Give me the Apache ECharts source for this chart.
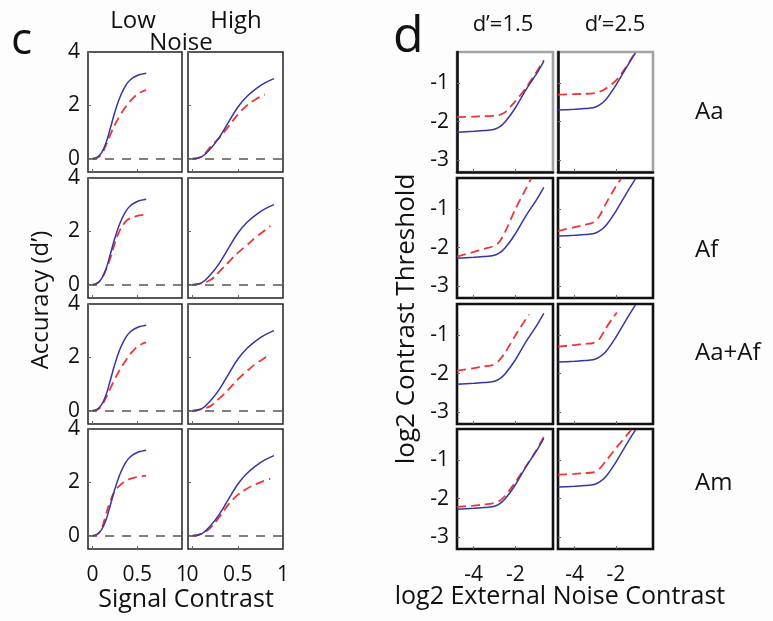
<!DOCTYPE html>
<html>
<head>
<meta charset="utf-8">
<script src="https://cdn.jsdelivr.net/npm/echarts@6/dist/echarts.min.js"></script>
<style>
html, body { margin: 0; padding: 0; background: #fdfdfd; }
#plot { width: 773px; height: 621px; }
</style>
</head>
<body>
<div id="plot"></div>
<script>
// ---- panel c: accuracy (d') vs signal contrast ----
const lowX = [0, 0.05, 0.1, 0.15, 0.2, 0.25, 0.3, 0.35, 0.4, 0.45, 0.5, 0.55, 0.6];
const lowBlue = [0, 0.05, 0.22, 0.58, 1.15, 1.75, 2.25, 2.62, 2.88, 3.03, 3.12, 3.17, 3.2];
const lowRedAa = [0, 0.03, 0.17, 0.5, 0.9, 1.27, 1.58, 1.84, 2.07, 2.26, 2.41, 2.51, 2.57];
const lowRedAf = [0, 0.04, 0.22, 0.55, 1.0, 1.55, 2.0, 2.28, 2.45, 2.53, 2.58, 2.61, 2.63];
const lowRedAaAf = [0, 0.03, 0.17, 0.48, 0.84, 1.18, 1.5, 1.77, 2.02, 2.23, 2.4, 2.5, 2.56];
const lowRedAm = [0, 0.04, 0.25, 0.8, 1.3, 1.68, 1.87, 2.0, 2.1, 2.16, 2.2, 2.23, 2.25];

const highX = [0, 0.1, 0.2, 0.3, 0.4, 0.5, 0.6, 0.7, 0.8, 0.9];
const highBlue = [0, 0.07, 0.38, 0.82, 1.38, 1.93, 2.33, 2.62, 2.84, 3.0];
const highRedXAa = [0, 0.1, 0.2, 0.3, 0.4, 0.5, 0.6, 0.7, 0.8];
const highRedAa = [0, 0.08, 0.45, 0.8, 1.22, 1.65, 1.99, 2.23, 2.4];
const highRedX = [0, 0.1, 0.2, 0.3, 0.4, 0.5, 0.6, 0.7, 0.8, 0.86];
const highRedAf = [0, 0.05, 0.18, 0.5, 0.85, 1.19, 1.48, 1.78, 2.04, 2.2];
const highRedAaAf = [0, 0.06, 0.18, 0.47, 0.8, 1.17, 1.48, 1.76, 1.98, 2.11];
const highRedAm = [0, 0.07, 0.3, 0.72, 1.18, 1.53, 1.76, 1.93, 2.07, 2.14];

const accTicks = [0, 2, 4];
const contrastTicks = [0, 0.5, 1];

// ---- panel d: log2 threshold vs log2 external noise ----
const noiseX15 = [-4.8, -4, -3.5, -3.1, -2.8, -2.5, -2, -1.5, -1, -0.64];
const blue15 = [-2.27, -2.25, -2.23, -2.21, -2.15, -2.01, -1.64, -1.18, -0.77, -0.44];
const noiseX25 = [-4.8, -4, -3.5, -3.1, -2.8, -2.5, -2, -1.5, -1.05];
const blue25 = [-1.7, -1.68, -1.66, -1.64, -1.57, -1.44, -1.06, -0.61, -0.22];

const redAa15 = [-1.88, -1.87, -1.86, -1.85, -1.83, -1.76, -1.47, -1.13, -0.72, -0.41];
const redAa25 = [-1.3, -1.29, -1.28, -1.27, -1.23, -1.15, -0.94, -0.59, -0.2];
const redAfX15 = [-4.8, -4, -3.5, -3.1, -2.8, -2.5, -2, -1.5, -1.25];
const redAf15 = [-2.23, -2.11, -2.03, -1.97, -1.87, -1.6, -1.0, -0.48, -0.22];
const redAfX25 = [-4.8, -4, -3.5, -3.1, -2.8, -2.5, -2, -1.75];
const redAf25 = [-1.57, -1.47, -1.41, -1.35, -1.19, -0.88, -0.42, -0.22];
const redAaAfX15 = [-4.8, -4, -3.5, -3.1, -2.8, -2.5, -2, -1.5, -1.35];
const redAaAf15 = [-1.92, -1.86, -1.81, -1.78, -1.67, -1.46, -1.01, -0.59, -0.47];
const redAaAfX25 = [-4.8, -4, -3.5, -3.1, -2.8, -2.5, -2.2, -1.95];
const redAaAf25 = [-1.3, -1.26, -1.23, -1.21, -1.11, -0.84, -0.6, -0.42];
const redAm15 = [-2.21, -2.18, -2.15, -2.12, -2.07, -1.93, -1.57, -1.17, -0.75, -0.4];
const redAmX25 = [-4.8, -4, -3.5, -3.1, -2.8, -2.5, -2, -1.5, -1.25];
const redAm25 = [-1.38, -1.36, -1.34, -1.32, -1.23, -1.04, -0.7, -0.38, -0.22];

const threshTicks = [-3, -2, -1];
const noiseTicks = [-4, -2];
const rowNames = ['Aa', 'Af', 'Aa+Af', 'Am'];

const FONT = 'Open Sans';
const BLUE = '#3636a4';
const RED = '#ef3535';
const TXT = '#111';
const rowTops = [52, 178, 304, 429];
const rowH = 120;

const zip = (xs, ys) => xs.map((x, i) => [x, ys[i]]);

const grid = [], xAxis = [], yAxis = [], series = [];

function addPanel(left, width, top, o) {
  const i = grid.length;
  grid.push({
    left: left, top: top, width: width, height: rowH, show: true,
    backgroundColor: '#ffffff', borderColor: o.border, borderWidth: o.bw
  });
  xAxis.push({
    type: 'value', gridIndex: i, min: o.xMin, max: o.xMax,
    splitLine: { show: false },
    axisLine: { show: o.axisLine, onZero: false, lineStyle: { color: '#111', width: o.bw } },
    axisTick: { show: true, inside: true, length: 3, customValues: o.xTicks, lineStyle: { color: '#666' } },
    axisLabel: { show: o.showX, customValues: o.xTicks, margin: 16, fontSize: 21, color: TXT, fontFamily: FONT }
  });
  yAxis.push({
    type: 'value', gridIndex: i, min: o.yMin, max: o.yMax,
    splitLine: { show: false },
    axisLine: { show: o.axisLine, onZero: false, lineStyle: { color: '#111', width: o.bw } },
    axisTick: { show: true, inside: true, length: 3, customValues: o.yTicks, lineStyle: { color: '#666' } },
    axisLabel: { show: o.showY, customValues: o.yTicks, margin: 8, fontSize: 21, color: TXT,
      fontFamily: FONT, padding: o.yPad }
  });
  return i;
}

function addLine(i, data, color, dashed, extra) {
  series.push(Object.assign({
    type: 'line', xAxisIndex: i, yAxisIndex: i, data: data,
    showSymbol: false, symbol: 'none', smooth: 0.4,
    lineStyle: { color: color, width: dashed ? 1.8 : 1.5, type: dashed ? [9, 5] : 'solid' },
    z: dashed ? 3 : 4
  }, extra || {}));
}

const zeroLine = {
  markLine: {
    silent: true, symbol: ['none', 'none'], label: { show: false },
    lineStyle: { color: '#555', type: [9, 8], width: 1.5 },
    data: [{ yAxis: 0 }]
  }
};

// panel c
const lowReds = [lowRedAa, lowRedAf, lowRedAaAf, lowRedAm];
const highReds = [[highRedXAa, highRedAa], [highRedX, highRedAf], [highRedX, highRedAaAf], [highRedX, highRedAm]];
rowTops.forEach((top, r) => {
  const base = { xMin: -0.05, xMax: 1, yMin: -0.5, yMax: 4, xTicks: contrastTicks, yTicks: accTicks,
    border: '#222', bw: 1.5, axisLine: false, showX: r === 3, yPad: [5, 0, 0, 0] };
  const a = addPanel(88, 94, top, Object.assign({}, base, { showY: true }));
  addLine(a, zip(lowX, lowBlue), BLUE, false, zeroLine);
  addLine(a, zip(lowX, lowReds[r]), RED, true);
  const b = addPanel(188, 95, top, Object.assign({}, base, { showY: false }));
  addLine(b, zip(highX, highBlue), BLUE, false, zeroLine);
  addLine(b, zip(highReds[r][0], highReds[r][1]), RED, true);
});

// panel d
const reds15 = [[noiseX15, redAa15], [redAfX15, redAf15], [redAaAfX15, redAaAf15], [noiseX15, redAm15]];
const reds25 = [[noiseX25, redAa25], [redAfX25, redAf25], [redAaAfX25, redAaAf25], [redAmX25, redAm25]];
rowTops.forEach((top, r) => {
  const base = { xMin: -4.8, xMax: -0.2, yMin: -3.3, yMax: -0.2, xTicks: noiseTicks, yTicks: threshTicks,
    border: r === 0 ? '#a3a3a3' : '#111', bw: 2.6, axisLine: r === 0, showX: r === 3, yPad: 0 };
  const a = addPanel(457, 96, top, Object.assign({}, base, { showY: true }));
  addLine(a, zip(noiseX15, blue15), BLUE, false, { smooth: 0.25 });
  addLine(a, zip(reds15[r][0], reds15[r][1]), RED, true, { smooth: 0.25 });
  const b = addPanel(558, 95, top, Object.assign({}, base, { showY: false }));
  addLine(b, zip(noiseX25, blue25), BLUE, false, { smooth: 0.25 });
  addLine(b, zip(reds25[r][0], reds25[r][1]), RED, true, { smooth: 0.25 });
});

function label(text, x, y, fs, opt) {
  opt = opt || {};
  const align = opt.align || 'center';
  return {
    type: 'text', x: x, y: y, rotation: opt.rot || 0, z: 10,
    style: {
      text: text, fontSize: fs, fontFamily: FONT, fill: TXT,
      align: align, verticalAlign: 'middle', textAlign: align, textVerticalAlign: 'middle'
    }
  };
}

const rowLabelY = [112, 250, 353, 483];
const graphics = [
  label('c', 11, 41, 44, { align: 'left' }),
  label('d', 393, 38, 50, { align: 'left' }),
  label('Low', 133, 21, 24),
  label('High', 236, 21, 24),
  label('Noise', 181, 43, 24),
  label('d\u2019=1.5', 503, 25, 22),
  label('d\u2019=2.5', 615, 25, 22),
  label('Signal Contrast', 186, 600, 25),
  label('log2 External Noise Contrast', 560, 597, 25),
  label('Accuracy (d\u2019)', 41, 300, 24, { rot: Math.PI / 2 }),
  label('log2 Contrast Threshold', 407, 319, 26, { rot: Math.PI / 2 })
].concat(rowNames.map((n, r) => label(n, 695, rowLabelY[r], 24, { align: 'left' })));

const chart = echarts.init(document.getElementById('plot'));
chart.setOption({
  backgroundColor: '#fdfdfd',
  animation: false,
  grid: grid,
  xAxis: xAxis,
  yAxis: yAxis,
  series: series,
  graphic: graphics
});
</script>
</body>
</html>
